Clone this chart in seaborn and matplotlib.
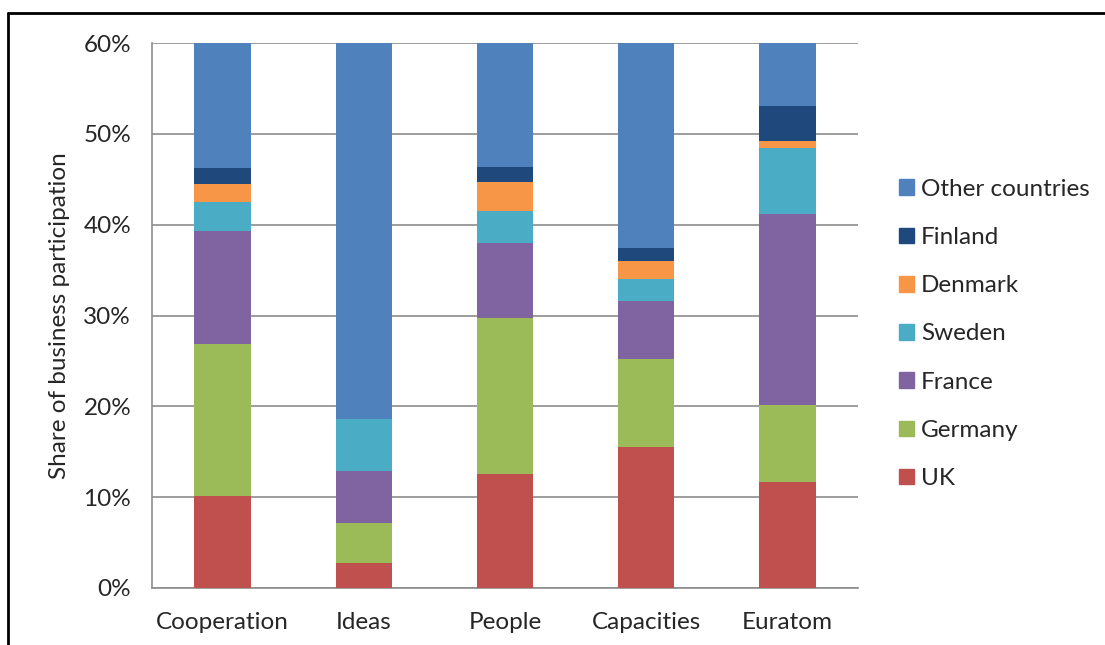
import numpy as np
import pandas as pd
import matplotlib.pyplot as plt
import matplotlib.patches as mpatches
import seaborn as sns

# Data (percent of business participation)
programmes = ['Cooperation', 'Ideas', 'People', 'Capacities', 'Euratom']
uk = [10.1, 2.8, 12.5, 15.5, 11.7]
germany = [16.8, 4.4, 17.2, 9.7, 8.4]
france = [12.4, 5.7, 8.3, 6.4, 21.1]
sweden = [3.2, 5.7, 3.5, 2.4, 7.2]
denmark = [2.0, 0.0, 3.2, 2.0, 0.8]
finland = [1.7, 0.0, 1.6, 1.4, 3.9]

countries = ['UK', 'Germany', 'France', 'Sweden', 'Denmark', 'Finland', 'Other countries']
colors = ['#C0504D', '#9BBB59', '#8064A2', '#4BACC6', '#F79646', '#1F497D', '#4F81BD']

df = pd.DataFrame({'programme': programmes, 'UK': uk, 'Germany': germany,
                   'France': france, 'Sweden': sweden, 'Denmark': denmark,
                   'Finland': finland})
df['Other countries'] = 100 - df[countries[:-1]].sum(axis=1)

# cumulative shares, drawn from the top segment down so each bar covers the next
cum = df[countries].cumsum(axis=1) / 100
cum['programme'] = df['programme']

sns.set_style('white')
plt.rcParams['font.family'] = ['Lato', 'DejaVu Sans']
FS = 17.5

fig = plt.figure(figsize=(11.05, 6.45), dpi=100)
ax = fig.add_axes([152 / 1105, 57 / 645, 706 / 1105, 545 / 645])

for country, col in zip(countries[::-1], colors[::-1]):
    sns.barplot(data=cum, x='programme', y=country, color=col, width=0.4,
                saturation=1, ax=ax, zorder=3, linewidth=0)

ax.set_ylim(0, 0.6)
ax.set_xlim(-0.5, 4.5)
ax.set_yticks(np.arange(0, 0.61, 0.1))
ax.set_yticklabels([f'{int(round(v * 100))}%' for v in np.arange(0, 0.61, 0.1)], fontsize=FS)
ax.yaxis.grid(True, color='#8c8c8c', linewidth=1.2, zorder=0)
ax.set_axisbelow(True)

ax.set_xticks(np.arange(-0.5, 5, 1))
ax.set_xticklabels([])
ax.set_xticks(range(5), minor=True)
ax.set_xticklabels(programmes, minor=True, fontsize=FS)
ax.tick_params(axis='x', which='major', length=7, color='#8c8c8c', width=1.2, direction='out')
ax.tick_params(axis='x', which='minor', length=0, pad=17)
ax.tick_params(axis='y', length=7, color='#8c8c8c', width=1.2, direction='out', pad=8)
ax.set_xlabel('')
ax.set_ylabel('Share of business participation', fontsize=FS, labelpad=10)

for side in ['top', 'right']:
    ax.spines[side].set_visible(False)
for side in ['left', 'bottom']:
    ax.spines[side].set_color('#8c8c8c')
    ax.spines[side].set_linewidth(1.2)

handles = [mpatches.Patch(color=c, label=n) for n, c in zip(countries[::-1], colors[::-1])]
fig.legend(handles=handles, loc='center left', bbox_to_anchor=(877 / 1105, 1 - 334 / 645),
           frameon=False, fontsize=FS, handlelength=0.62, handleheight=0.62,
           handletextpad=0.3, labelspacing=1.12)

# outer frame like the source image
fig.add_artist(plt.Line2D([8 / 1105, 8 / 1105], [0, 1 - 13 / 645], color='black', lw=2,
                          transform=fig.transFigure))
fig.add_artist(plt.Line2D([8 / 1105, 1], [1 - 13 / 645, 1 - 13 / 645], color='black', lw=2,
                          transform=fig.transFigure))

fig.savefig('out.png', dpi=100)
